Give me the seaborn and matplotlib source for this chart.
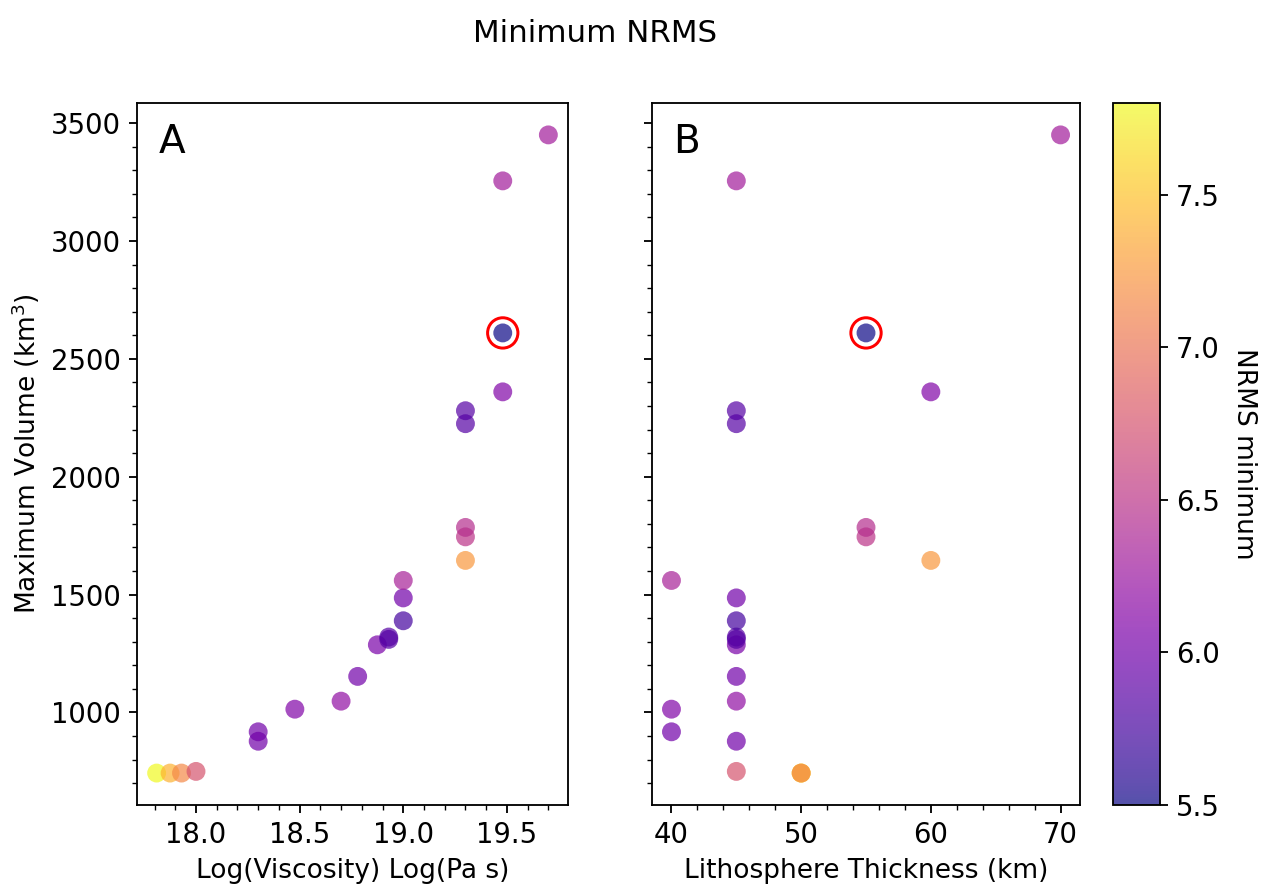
import numpy as np
import pandas as pd
import matplotlib
matplotlib.use("Agg")
import matplotlib.pyplot as plt
from matplotlib.ticker import MultipleLocator
import seaborn as sns

# Model runs: log10 viscosity (Pa s), lithosphere thickness (km),
# maximum volume (km^3) and the minimum NRMS reached by each run
log_viscosity = [17.81, 17.875, 17.93, 18.00, 18.30, 18.30, 18.477, 18.70,
                 18.78, 18.875, 18.93, 18.93, 19.00, 19.00, 19.00,
                 19.30, 19.30, 19.30, 19.30, 19.30, 19.48, 19.48, 19.48, 19.70]
thickness_km = [50, 50, 50, 45, 45, 40, 40, 45,
                45, 45, 45, 45, 45, 45, 40,
                60, 55, 55, 45, 45, 60, 55, 45, 70]
max_volume = [743, 743, 743, 750, 878, 918, 1014, 1048,
              1153, 1287, 1310, 1320, 1389, 1486, 1560,
              1645, 1745, 1785, 2225, 2280, 2360, 2610, 3255, 3450]
nrms_min = [7.80, 7.40, 7.15, 6.75, 6.00, 6.00, 6.10, 6.20,
            6.00, 6.05, 5.85, 5.85, 5.75, 6.00, 6.35,
            7.25, 6.50, 6.45, 5.85, 5.85, 6.10, 5.50, 6.30, 6.30]

df = pd.DataFrame({"visc": log_viscosity, "thick": thickness_km,
                   "vol": max_volume, "nrms": nrms_min})
vmin, vmax = df["nrms"].min(), df["nrms"].max()
best = df.loc[df["nrms"].idxmin()]

plt.rcParams["font.family"] = ["DejaVu Sans"]
plt.rcParams["font.size"] = 11.5
plt.rcParams["xtick.labelsize"] = 12
plt.rcParams["ytick.labelsize"] = 12

fig = plt.figure(figsize=(1270 / 165, 884 / 165), dpi=165)
axA = fig.add_axes([0.1079, 0.0894, 0.3393, 0.7941])
axB = fig.add_axes([0.5134, 0.0894, 0.3370, 0.7941], sharey=axA)
cax = fig.add_axes([0.8764, 0.0894, 0.0370, 0.7941])

panels = [(axA, "visc", "Log(Viscosity) Log(Pa s)", "A", 0.1),
          (axB, "thick", "Lithosphere Thickness (km)", "B", 2)]

for ax, xcol, xlabel, letter, minor in panels:
    sns.scatterplot(data=df, x=xcol, y="vol", hue="nrms", palette="plasma",
                    hue_norm=(vmin, vmax), s=68, alpha=0.7, linewidth=0,
                    legend=False, ax=ax)
    # ring around the run with the lowest NRMS
    ax.scatter([best[xcol]], [best["vol"]], s=175, facecolors="none",
               edgecolors="red", linewidths=1.3, zorder=5)
    ax.set_xlabel(xlabel)
    ax.xaxis.set_minor_locator(MultipleLocator(minor))
    ax.yaxis.set_minor_locator(MultipleLocator(100))
    ax.text(0.05, 0.972, letter, transform=ax.transAxes, ha="left", va="top",
            fontsize=17)

axA.set_ylabel("Maximum Volume (km$^3$)")
axB.set_ylabel("")
axB.tick_params(axis="y", labelleft=False)
axA.set_xticks([18.0, 18.5, 19.0, 19.5])
axB.set_xticks([40, 50, 60, 70])

sm = plt.cm.ScalarMappable(cmap="plasma",
                           norm=plt.Normalize(vmin=vmin, vmax=vmax))
cbar = fig.colorbar(sm, cax=cax, alpha=0.7)
cbar.set_ticks([5.5, 6.0, 6.5, 7.0, 7.5])
cbar.set_label("NRMS minimum", rotation=270, labelpad=16)

fig.suptitle("Minimum NRMS", x=0.4685, y=0.978, fontsize=13.5)

fig.savefig("out.png", dpi=165)
